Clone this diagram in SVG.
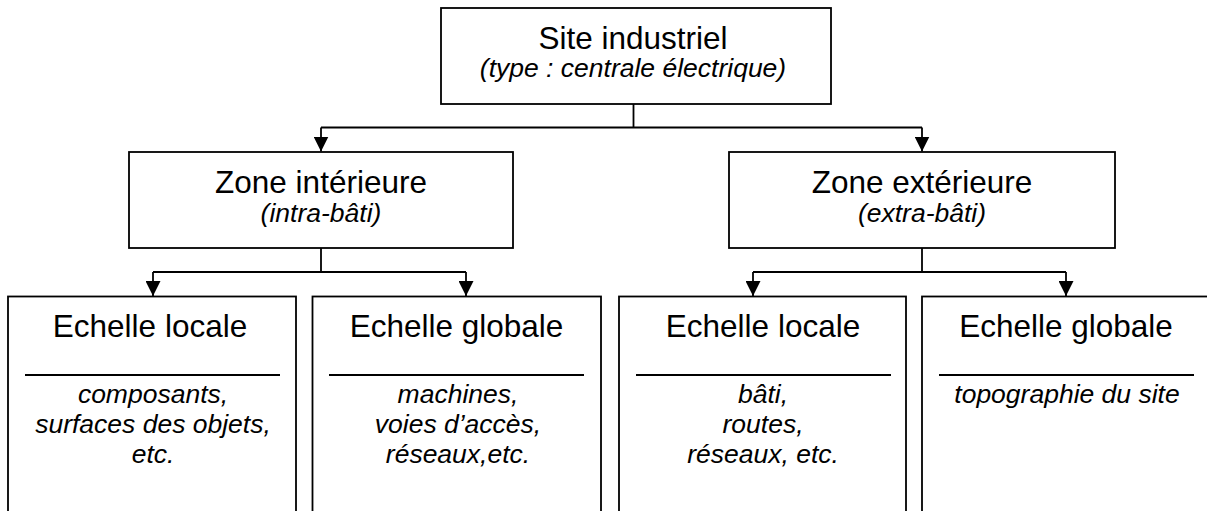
<svg xmlns="http://www.w3.org/2000/svg" width="1207" height="511" viewBox="0 0 1207 511">
<style>
.box{fill:#fff;stroke:#000;stroke-width:1.8}
.rule{stroke:#000;stroke-width:2}
.con{fill:none;stroke:#000;stroke-width:1.8}
.t{font-family:"Liberation Sans",Arial,sans-serif;font-size:31.5px;fill:#000;text-anchor:middle}
.i{font-family:"Liberation Sans",Arial,sans-serif;font-size:26.5px;font-style:italic;fill:#000;text-anchor:middle}
</style>
<defs>
<marker id="ah" viewBox="0 0 15 15" refX="15" refY="7.5" markerWidth="15" markerHeight="15" markerUnits="userSpaceOnUse" orient="auto">
<path d="M0,0 L15,7.5 L0,15 Z" fill="#000"/>
</marker>
</defs>
<rect width="1207" height="511" fill="#fff"/>
<g id="connectors">
<path class="con" d="M633.5,104 V127.5"/>
<path class="con" d="M321,127.5 H922"/>
<path class="con" d="M321,127.5 V151.5" marker-end="url(#ah)"/>
<path class="con" d="M922,127.5 V151.5" marker-end="url(#ah)"/>
<path class="con" d="M321,248 V272"/>
<path class="con" d="M153,272 H466"/>
<path class="con" d="M153,272 V296" marker-end="url(#ah)"/>
<path class="con" d="M466,272 V296" marker-end="url(#ah)"/>
<path class="con" d="M922,248 V272"/>
<path class="con" d="M753,272 H1066"/>
<path class="con" d="M753,272 V296" marker-end="url(#ah)"/>
<path class="con" d="M1066,272 V296" marker-end="url(#ah)"/>
</g>
<g id="site">
<rect class="box" x="441" y="8" width="390" height="96"/>
<text class="t" x="633" y="49">Site industriel</text>
<text class="i" x="633" y="77">(type : centrale électrique)</text>
</g>
<g id="zone-interieure">
<rect class="box" x="129" y="152" width="384" height="96"/>
<text class="t" x="321" y="193">Zone intérieure</text>
<text class="i" x="321" y="222">(intra-bâti)</text>
</g>
<g id="zone-exterieure">
<rect class="box" x="729" y="152" width="386" height="96"/>
<text class="t" x="922" y="193">Zone extérieure</text>
<text class="i" x="922" y="222">(extra-bâti)</text>
</g>
<g id="int-locale">
<rect class="box" x="8" y="296.5" width="288" height="230"/>
<text class="t" x="150" y="337">Echelle locale</text>
<line class="rule" x1="25" y1="375" x2="280" y2="375"/>
<text class="i" x="153" y="403">composants,</text>
<text class="i" x="153" y="433">surfaces des objets,</text>
<text class="i" x="153" y="463">etc.</text>
</g>
<g id="int-globale">
<rect class="box" x="312.5" y="296.5" width="288.5" height="230"/>
<text class="t" x="456.5" y="337">Echelle globale</text>
<line class="rule" x1="329" y1="375" x2="584" y2="375"/>
<text class="i" x="458" y="403">machines,</text>
<text class="i" x="458" y="433">voies d’accès,</text>
<text class="i" x="458" y="463">réseaux,etc.</text>
</g>
<g id="ext-locale">
<rect class="box" x="619" y="296.5" width="287" height="230"/>
<text class="t" x="763" y="337">Echelle locale</text>
<line class="rule" x1="636" y1="375" x2="891" y2="375"/>
<text class="i" x="763" y="403">bâti,</text>
<text class="i" x="763" y="433">routes,</text>
<text class="i" x="763" y="463">réseaux, etc.</text>
</g>
<g id="ext-globale">
<rect class="box" x="922" y="296.5" width="300" height="230"/>
<text class="t" x="1066" y="337">Echelle globale</text>
<line class="rule" x1="939" y1="375" x2="1194" y2="375"/>
<text class="i" x="1067" y="403">topographie du site</text>
</g>
</svg>
